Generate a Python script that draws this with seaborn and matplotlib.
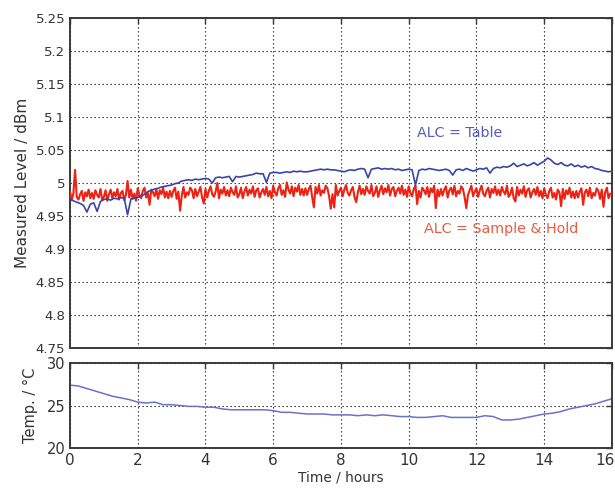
import numpy as np
import pandas as pd
import matplotlib
matplotlib.use("Agg")
import matplotlib.pyplot as plt
import matplotlib.transforms as mtransforms
import seaborn as sns

# ---------------- data ----------------
level_ticks = [4.75, 4.8, 4.85, 4.9, 4.95, 5.0, 5.05, 5.1, 5.15, 5.2, 5.25]
level_tick_labels = ["4.75", "4.8", "4.85", "4.9", "4.95", "5", "5.05", "5.1", "5.15", "5.2", "5.25"]
temp_ticks = [20, 25, 30]
time_ticks = [0, 2, 4, 6, 8, 10, 12, 14, 16]

# ALC = Table, one value every 0.1 h
alc_table = [
    4.976, 4.973, 4.971, 4.969, 4.966, 4.956, 4.968, 4.970, 4.957, 4.972,
    4.975, 4.976, 4.974, 4.977, 4.976, 4.978, 4.977, 4.952, 4.976, 4.977,
    4.978, 4.980, 4.983, 4.987, 4.989, 4.991, 4.992, 4.994, 4.995, 4.996,
    4.997, 4.999, 5.000, 5.003, 5.004, 5.005, 5.004, 5.006, 5.005, 5.006,
    5.007, 5.006, 5.000, 5.008, 5.009, 5.008, 5.009, 5.010, 5.002, 5.010,
    5.009, 5.010, 5.011, 5.012, 5.013, 5.015, 5.014, 5.014, 5.001, 5.015,
    5.016, 5.016, 5.015, 5.016, 5.017, 5.016, 5.018, 5.017, 5.018, 5.017,
    5.017, 5.018, 5.019, 5.020, 5.021, 5.020, 5.021, 5.020, 5.020, 5.019,
    5.018, 5.017, 5.019, 5.020, 5.019, 5.021, 5.022, 5.021, 5.008, 5.021,
    5.022, 5.023, 5.021, 5.022, 5.021, 5.022, 5.020, 5.021, 5.019, 5.020,
    5.021, 5.020, 4.997, 5.019, 5.021, 5.020, 5.022, 5.021, 5.020, 5.019,
    5.020, 5.021, 5.019, 5.012, 5.020, 5.021, 5.019, 5.022, 5.020, 5.018,
    5.020, 5.022, 5.021, 5.023, 5.015, 5.022, 5.024, 5.023, 5.025, 5.024,
    5.026, 5.030, 5.025, 5.027, 5.029, 5.026, 5.028, 5.031, 5.027, 5.030,
    5.033, 5.038, 5.035, 5.030, 5.028, 5.031, 5.027, 5.026, 5.029, 5.025,
    5.027, 5.024, 5.026, 5.023, 5.025, 5.022, 5.021, 5.019, 5.018, 5.017,
    5.018,
]

# ALC = Sample & Hold, one value every 0.05 h
alc_sample_hold = [
    4.987, 4.974, 4.984, 5.020, 4.979, 4.975, 4.983, 4.988, 4.973, 4.986, 4.980, 4.990, 4.977, 4.985, 4.976, 4.989, 4.982, 4.978, 4.991, 4.974,
    4.979, 4.989, 4.973, 4.983, 4.990, 4.977, 4.986, 4.980, 4.991, 4.975, 4.985, 4.988, 4.974, 4.982, 5.003, 4.978, 4.990, 4.976, 4.984, 4.973,
    4.992, 4.982, 4.977, 4.988, 4.993, 4.978, 4.985, 4.967, 4.990, 4.986, 4.980, 4.991, 4.976, 4.989, 4.983, 4.993, 4.978, 4.987, 4.977, 4.988,
    4.979, 4.988, 4.993, 4.976, 4.987, 4.958, 4.981, 4.994, 4.978, 4.986, 4.982, 4.993, 4.989, 4.977, 4.991, 4.980, 4.987, 4.994, 4.978, 4.969,
    4.991, 4.978, 4.988, 4.995, 4.983, 4.979, 4.987, 5.000, 4.977, 4.990, 4.984, 4.994, 4.981, 4.989, 4.980, 4.993, 4.986, 4.982, 4.995, 4.978,
    4.983, 4.993, 4.977, 4.987, 4.994, 4.981, 4.990, 4.984, 4.995, 4.979, 4.989, 4.992, 4.978, 4.986, 4.991, 4.982, 4.994, 4.980, 4.988, 4.977,
    4.996, 4.986, 4.981, 4.992, 4.997, 4.982, 4.989, 4.979, 5.001, 4.990, 4.984, 4.995, 4.980, 4.993, 4.987, 4.997, 4.982, 4.991, 4.981, 4.992,
    4.982, 4.991, 4.996, 4.979, 4.963, 4.994, 4.984, 4.997, 4.981, 4.989, 4.985, 4.996, 4.992, 4.980, 4.961, 4.983, 4.963, 4.997, 4.981, 4.988,
    4.993, 4.980, 4.990, 4.997, 4.985, 4.981, 4.989, 4.994, 4.979, 4.971, 4.986, 4.996, 4.983, 4.991, 4.982, 4.995, 4.988, 4.984, 4.997, 4.980,
    4.985, 4.995, 4.979, 4.989, 4.996, 4.983, 4.992, 4.986, 4.997, 4.981, 4.991, 4.994, 4.980, 4.988, 4.993, 4.984, 4.996, 4.982, 4.990, 4.979,
    4.995, 4.985, 4.980, 4.991, 4.996, 4.968, 4.988, 4.978, 4.993, 4.989, 4.983, 4.994, 4.979, 4.992, 4.986, 4.996, 4.962, 4.990, 4.980, 4.991,
    4.981, 4.990, 4.995, 4.978, 4.989, 4.993, 4.983, 4.996, 4.980, 4.988, 4.984, 4.995, 4.991, 4.979, 4.962, 4.982, 4.989, 4.996, 4.980, 4.987,
    4.992, 4.979, 4.989, 4.996, 4.984, 4.980, 4.988, 4.993, 4.978, 4.991, 4.985, 4.995, 4.982, 4.990, 4.981, 4.994, 4.987, 4.983, 4.996, 4.979,
    4.983, 4.993, 4.977, 4.972, 4.994, 4.981, 4.990, 4.984, 4.995, 4.979, 4.989, 4.992, 4.978, 4.986, 4.991, 4.982, 4.994, 4.980, 4.988, 4.977,
    4.992, 4.982, 4.977, 4.988, 4.993, 4.978, 4.985, 4.975, 4.990, 4.986, 4.965, 4.991, 4.976, 4.989, 4.983, 4.993, 4.978, 4.987, 4.977, 4.988,
    4.978, 4.987, 4.992, 4.967, 4.986, 4.990, 4.980, 4.993, 4.977, 4.985, 4.981, 4.992, 4.988, 4.976, 4.990, 4.964, 4.986, 4.993, 4.977, 4.984,
    4.984,
]

# Temperature, one value every 0.25 h
temperature = [
    27.4, 27.3, 27.0, 26.7, 26.4, 26.1, 25.9, 25.7,
    25.4, 25.3, 25.4, 25.1, 25.1, 25.0, 24.9, 24.9,
    24.8, 24.8, 24.6, 24.5, 24.5, 24.5, 24.5, 24.5,
    24.4, 24.2, 24.2, 24.1, 24.0, 24.0, 24.0, 23.9,
    23.9, 23.9, 23.8, 23.9, 23.8, 23.9, 23.8, 23.7,
    23.7, 23.6, 23.6, 23.7, 23.8, 23.6, 23.6, 23.6,
    23.6, 23.8, 23.7, 23.3, 23.3, 23.4, 23.6, 23.8,
    24.0, 24.1, 24.3, 24.6, 24.8, 25.0, 25.2, 25.5,
    25.8,
]

df_table = pd.DataFrame({"t": np.linspace(0, 16, len(alc_table)), "v": alc_table})
df_sh = pd.DataFrame({"t": np.linspace(0, 16, len(alc_sample_hold)), "v": alc_sample_hold})
df_temp = pd.DataFrame({"t": np.linspace(0, 16, len(temperature)), "v": temperature})

# ---------------- style ----------------
sns.set_style("white")
plt.rcParams["font.family"] = ["DejaVu Sans"]
plt.rcParams["path.simplify"] = False

BLUE = "#3a44a8"
RED = "#ec2214"
SPINE = "#3a3a3a"
TXT = "#333333"

fig = plt.figure(figsize=(6.15, 4.88), dpi=100)
ax1 = fig.add_axes([0.1138, 0.2869, 0.8812, 0.6761])
ax2 = fig.add_axes([0.1138, 0.082, 0.8812, 0.174])

sns.lineplot(data=df_sh, x="t", y="v", ax=ax1, color=RED, linewidth=1.5, zorder=3)
sns.lineplot(data=df_table, x="t", y="v", ax=ax1, color=BLUE, linewidth=1.2, zorder=4)
sns.lineplot(data=df_temp, x="t", y="v", ax=ax2, color="#6a72c8", linewidth=1.1)

for ax in (ax1, ax2):
    ax.set_xlim(0, 16)
    ax.set_xticks(time_ticks)
    ax.grid(True, linestyle=(0, (1.2, 2.4)), color="#222222", linewidth=0.8)
    ax.tick_params(direction="in", length=4, width=1.0, colors=SPINE,
                   top=True, right=True, labelcolor=TXT)
    for s in ax.spines.values():
        s.set_color(SPINE)
        s.set_linewidth(1.4)
    ax.set_xlabel("")
    ax.set_ylabel("")

ax1.set_ylim(4.75, 5.25)
ax1.set_yticks(level_ticks)
ax1.set_yticklabels(level_tick_labels, fontsize=9.5)
ax1.tick_params(axis="x", labelbottom=False)
ax1.set_ylabel("Measured Level / dBm", fontsize=11, color=TXT, labelpad=4)

ax2.set_ylim(20, 30)
ax2.set_yticks(temp_ticks)
ax2.set_yticklabels([str(v) for v in temp_ticks], fontsize=10.5)
ax2.set_xticklabels([str(v) for v in time_ticks], fontsize=11)
ax2.set_ylabel("Temp. / °C", fontsize=10.5, color=TXT, labelpad=6)
ax2.set_xlabel("Time / hours", fontsize=9.8, color=TXT, labelpad=2)

# keep the last tick label inside the canvas
last = ax2.get_xticklabels()[-1]
last.set_transform(last.get_transform() + mtransforms.ScaledTranslation(-7 / 100, 0, fig.dpi_scale_trans))

ax1.text(10.25, 5.076, "ALC = Table", color="#5a5ab8", fontsize=10.3, va="center", ha="left")
ax1.text(10.45, 4.930, "ALC = Sample & Hold", color="#f05a3c", fontsize=10.3, va="center", ha="left")

fig.savefig("out.png", dpi=100)
